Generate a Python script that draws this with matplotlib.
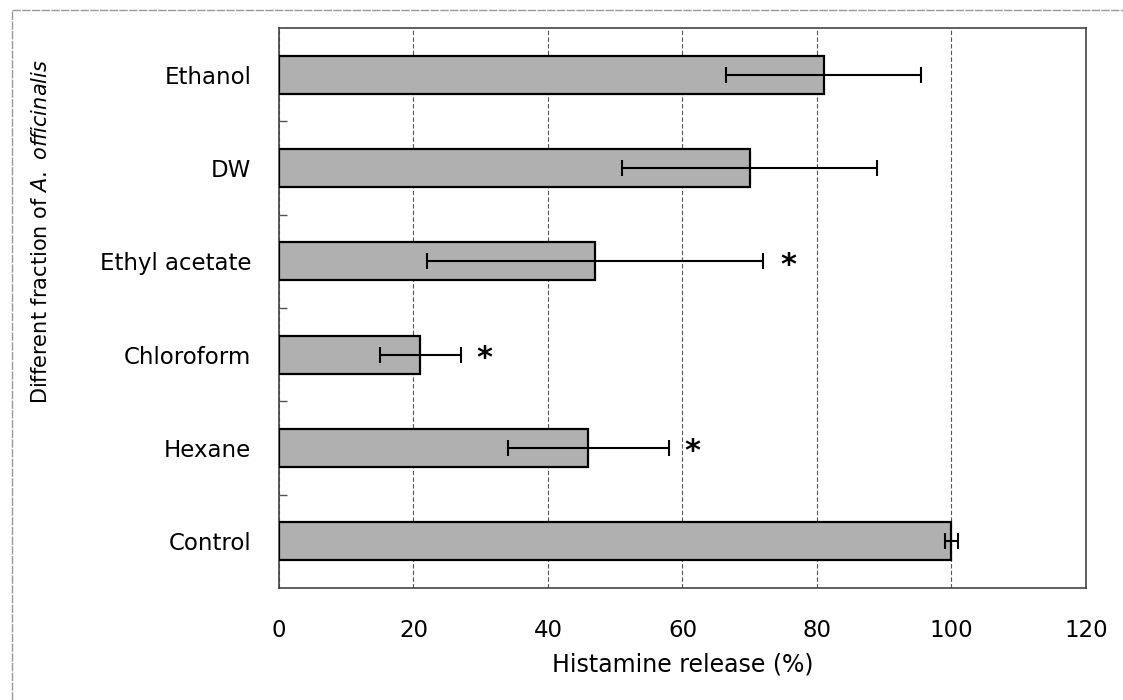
import matplotlib
matplotlib.use('Agg')
import matplotlib.pyplot as plt
import numpy as np
from matplotlib.lines import Line2D

# data
fractions = ['Ethanol', 'DW', 'Ethyl acetate', 'Chloroform', 'Hexane', 'Control']
release = [81, 70, 47, 21, 46, 100]
release_err = [14.5, 19, 25, 6, 12, 1]
significant = [False, False, True, True, True, False]
star_pos = [0, 0, 75.7, 30.5, 61.5, 0]
x_ticks = [0, 20, 40, 60, 80, 100, 120]

fig = plt.figure(figsize=[11.23, 7], dpi=100)
ax = fig.add_axes([0.2484, 0.16, 0.7186, 0.80])

y = np.arange(len(fractions))
ax.barh(y, release, height=0.41, color='#b0b0b0', edgecolor='black',
        linewidth=1.6, zorder=3)
ax.errorbar(release, y, xerr=release_err, fmt='none', ecolor='black',
            elinewidth=1.5, capsize=6, capthick=1.5, zorder=4)

for yi, sig, sx in zip(y, significant, star_pos):
    if sig:
        ax.text(sx, yi + 0.04, '*', ha='center', va='center', fontsize=22,
                fontweight='bold', zorder=5)

ax.set_xlim(0, 120)
ax.set_ylim(5.5, -0.5)
ax.set_xticks(x_ticks)
ax.set_xticklabels([str(t) for t in x_ticks], fontsize=16.5)
ax.set_yticks(y)
ax.set_yticklabels(fractions, fontsize=16.5)
ax.set_yticks(np.arange(0.5, 5.0, 1.0), minor=True)
ax.tick_params(axis='x', length=0, pad=22)
ax.tick_params(axis='y', which='major', length=0, pad=20)
ax.tick_params(axis='y', which='minor', direction='in', length=6, width=1,
               color='#555555')

ax.xaxis.grid(True, color='#555555', linestyle=(0, (4, 2)), linewidth=0.8,
              zorder=0)
for s in ax.spines.values():
    s.set_color('#444444')
    s.set_linewidth(1.2)

ax.set_xlabel('Histamine release (%)', fontsize=17, labelpad=8)
ax.set_ylabel('Different fraction of $\\it{A.\\ officinalis}$', fontsize=15)
ax.yaxis.set_label_coords(-0.283, 0.637)

# scanned page frame
fig.add_artist(Line2D([0.011, 1.0], [0.986, 0.986], color='#999999',
                      linewidth=1, linestyle=(0, (6, 1))))
fig.add_artist(Line2D([0.011, 0.011], [0.0, 0.986], color='#999999',
                      linewidth=1, linestyle=(0, (6, 1))))

plt.savefig('out.png', dpi=100)
